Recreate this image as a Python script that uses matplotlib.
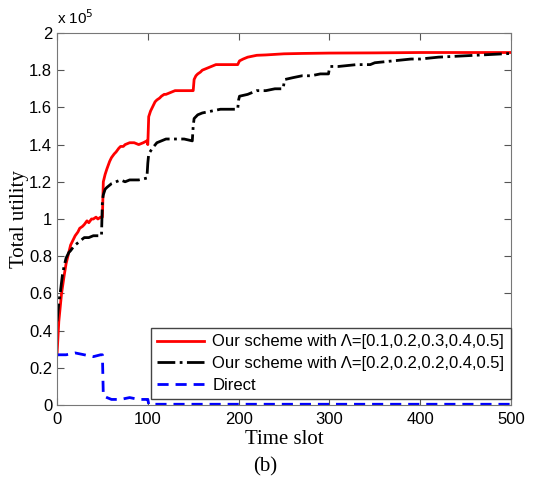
import matplotlib.pyplot as plt
from matplotlib.ticker import FuncFormatter

# values, units of 1e5
x_red = [0, 2, 5, 8, 10, 13, 15, 18, 20, 23, 25, 28, 30, 33, 35, 38, 40, 43, 45, 48, 50,
         51, 53, 55, 58, 60, 63, 65, 68, 70, 73, 75, 80, 85, 90, 95, 99,
         100, 101, 103, 105, 108, 110, 113, 115, 118, 120, 125, 130, 135, 140, 145, 149,
         150, 151, 153, 155, 158, 160, 165, 170, 175, 180, 190, 199,
         200, 201, 205, 210, 215, 220, 230, 240, 250, 270, 300, 350, 400, 450, 500]
y_red = [0.27, 0.45, 0.60, 0.70, 0.76, 0.82, 0.86, 0.89, 0.91, 0.93, 0.95, 0.96, 0.97, 0.99, 0.98, 1.00, 1.00, 1.01, 1.00, 1.01, 1.01,
         1.20, 1.24, 1.27, 1.31, 1.33, 1.35, 1.36, 1.38, 1.39, 1.39, 1.40, 1.41, 1.41, 1.40, 1.41, 1.42,
         1.40, 1.55, 1.58, 1.60, 1.63, 1.64, 1.65, 1.66, 1.67, 1.67, 1.68, 1.69, 1.69, 1.69, 1.69, 1.69,
         1.69, 1.75, 1.77, 1.78, 1.79, 1.80, 1.81, 1.82, 1.83, 1.83, 1.83, 1.83,
         1.84, 1.85, 1.86, 1.87, 1.875, 1.88, 1.882, 1.885, 1.888, 1.89, 1.892, 1.893, 1.895, 1.895, 1.895]

x_blk = [0, 2, 4, 6, 8, 10, 13, 15, 18, 20, 25, 30, 35, 40, 45, 49,
         50, 51, 53, 55, 60, 65, 70, 75, 80, 90, 99,
         100, 101, 105, 110, 115, 120, 130, 140, 149,
         150, 151, 155, 160, 170, 180, 190, 199,
         200, 201, 210, 220, 230, 240, 249,
         250, 251, 260, 270, 280, 290, 299,
         300, 301, 310, 330, 345, 350, 370, 390, 400, 420, 440, 460, 480, 500]
y_blk = [0.45, 0.55, 0.62, 0.70, 0.75, 0.79, 0.82, 0.83, 0.85, 0.86, 0.88, 0.90, 0.90, 0.91, 0.91, 0.91,
         1.10, 1.13, 1.16, 1.17, 1.19, 1.20, 1.21, 1.20, 1.21, 1.21, 1.22,
         1.30, 1.35, 1.38, 1.41, 1.42, 1.43, 1.43, 1.43, 1.42,
         1.50, 1.54, 1.56, 1.57, 1.58, 1.59, 1.59, 1.59,
         1.64, 1.66, 1.67, 1.69, 1.69, 1.70, 1.70,
         1.73, 1.75, 1.76, 1.77, 1.77, 1.78, 1.78,
         1.81, 1.82, 1.82, 1.83, 1.83, 1.84, 1.85, 1.86, 1.86, 1.87, 1.875, 1.88, 1.885, 1.89]

x_dir = [0, 10, 20, 30, 40, 48, 50, 51, 55, 60, 70, 80, 90, 99, 100, 101, 500]
y_dir = [0.27, 0.27, 0.28, 0.27, 0.26, 0.27, 0.27, 0.05, 0.04, 0.03, 0.03, 0.04, 0.03, 0.03, 0.03, 0.004, 0.004]

labels = ['Our scheme with \u039b=[0.1,0.2,0.3,0.4,0.5]',
          'Our scheme with \u039b=[0.2,0.2,0.2,0.4,0.5]',
          'Direct']

fig = plt.figure(figsize=(5.45, 4.78), dpi=100)
ax = fig.add_axes([0.1046, 0.1527, 0.833, 0.7783])

ax.plot(x_red, y_red, 'r-', lw=2, label=labels[0])
ax.plot(x_blk, y_blk, 'k-.', lw=2, label=labels[1])
ax.plot(x_dir, y_dir, 'b--', lw=2, dashes=(4, 2.5), label=labels[2])

ax.set_xlim(0, 500)
ax.set_ylim(0, 2)
ax.set_xticks([0, 100, 200, 300, 400, 500])
ax.set_yticks([0, 0.2, 0.4, 0.6, 0.8, 1, 1.2, 1.4, 1.6, 1.8, 2])
ax.yaxis.set_major_formatter(FuncFormatter(lambda v, p: '%g' % v))
ax.tick_params(direction='in', top=True, right=True, length=5, color='#555555',
               labelsize=12)
ax.tick_params(axis='x', pad=5)
for lab in ax.get_xticklabels() + ax.get_yticklabels():
    lab.set_family('Liberation Sans')
for s in ax.spines.values():
    s.set_color('#777777')

ax.set_xlabel('Time slot', family='Liberation Serif', fontsize=15, labelpad=2)
ax.set_ylabel('Total utility', family='Liberation Serif', fontsize=15, labelpad=0)
ax.text(0.0, 1.015, 'x 10$^5$', transform=ax.transAxes, family='Liberation Sans',
        fontsize=11, va='bottom', ha='left')
fig.text(0.486, 0.023, '(b)', family='Liberation Serif', fontsize=15, ha='center', va='center')

leg = ax.legend(loc='lower right', bbox_to_anchor=(1.0, 0.015), fancybox=False,
                framealpha=1, edgecolor='#444444', borderaxespad=0,
                prop={'family': 'Liberation Sans', 'size': 12},
                handlelength=2.8, labelspacing=0.4, borderpad=0.4, handletextpad=0.5)
leg.get_frame().set_linewidth(1.0)

fig.savefig('out.png', dpi=100)
